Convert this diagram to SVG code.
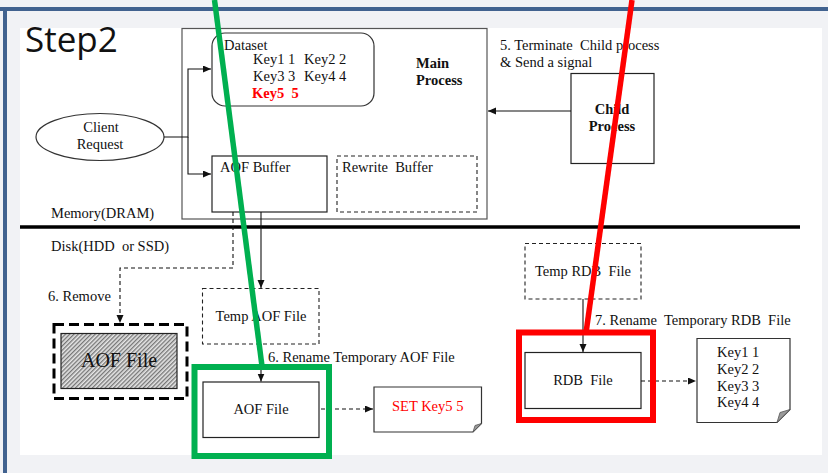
<svg xmlns="http://www.w3.org/2000/svg" width="828" height="473" viewBox="0 0 828 473">
<defs>
<style>
.t{font-family:"Liberation Serif","Times New Roman",serif;font-size:14.5px;fill:#111;white-space:pre}
.b{font-weight:bold}
.red{fill:#ff0000}
.c{text-anchor:middle}
.box{fill:#fff;stroke:#222;stroke-width:1.2}
.dbox{fill:#fff;stroke:#222;stroke-width:1.1;stroke-dasharray:4 3}
.con{fill:none;stroke:#111;stroke-width:1.1}
.dash{stroke-dasharray:4 3}
</style>
<marker id="ah" markerUnits="userSpaceOnUse" markerWidth="9" markerHeight="8" refX="8" refY="3.5" orient="auto">
<path d="M0,0 L8,3.5 L0,7 z" fill="#111"/>
</marker>
<pattern id="hatch" width="3" height="3" patternUnits="userSpaceOnUse" patternTransform="rotate(45)">
<rect width="3" height="3" fill="#e6e6e6"/>
<line x1="0.7" y1="0" x2="0.7" y2="3" stroke="#6a6a6a" stroke-width="1.2"/>
</pattern>
</defs>

<!-- slide background -->
<rect x="0" y="0" width="828" height="473" fill="#f1f2f5"/>
<rect x="20" y="28" width="802" height="427" fill="#fff"/>
<rect x="0" y="7" width="828" height="4" fill="#41628f"/>
<rect x="3" y="7" width="4" height="466" fill="#41628f"/>

<text x="25" y="52" font-family="'Open Sans','Liberation Sans',sans-serif" font-size="35" fill="#111">Step2</text>

<!-- memory / disk divider -->
<line x1="20" y1="227" x2="800" y2="227" stroke="#000" stroke-width="3.5"/>
<text class="t" x="51" y="218">Memory(DRAM)</text>
<text class="t" x="51" y="251" xml:space="preserve">Disk(HDD  or SSD)</text>

<g id="main-process">
<rect x="182" y="28.5" width="305" height="190.5" fill="#fff" stroke="#555" stroke-width="1.2"/>
<text class="t b" x="416" y="68">Main</text>
<text class="t b" x="416" y="85">Process</text>
</g>

<g id="dataset">
<rect x="212" y="33" width="162" height="73" rx="13" fill="#fff" stroke="#333" stroke-width="1.2"/>
<text class="t" x="224" y="50">Dataset</text>
<text class="t" x="253" y="64">Key1 1</text>
<text class="t" x="304" y="64">Key2 2</text>
<text class="t" x="253" y="81">Key3 3</text>
<text class="t" x="304" y="81">Key4 4</text>
<text class="t b red" x="252" y="98" xml:space="preserve">Key5  5</text>
</g>

<g id="aof-buffer">
<rect class="box" x="212" y="156" width="115" height="56"/>
<text class="t" x="220" y="172">AOF Buffer</text>
</g>

<g id="rewrite-buffer">
<rect class="dbox" x="337" y="156" width="140" height="56"/>
<text class="t" x="342" y="172" xml:space="preserve">Rewrite  Buffer</text>
</g>

<g id="client-request">
<ellipse cx="100" cy="137" rx="64" ry="23.5" fill="#fff" stroke="#333" stroke-width="1.2"/>
<text class="t c" x="101" y="132">Client</text>
<text class="t c" x="100" y="149">Request</text>
</g>

<g id="child-process">
<rect class="box" x="571" y="73.5" width="83" height="90"/>
<text class="t b c" x="612" y="114">Child</text>
<text class="t b c" x="612" y="131">Process</text>
<text class="t" x="500" y="50" xml:space="preserve">5. Terminate  Child process</text>
<text class="t" x="500" y="67">&amp; Send a signal</text>
</g>

<g id="old-aof-file">
<rect x="54" y="324.5" width="133" height="74" fill="none" stroke="#000" stroke-width="3" stroke-dasharray="10 5"/>
<rect x="61" y="333.5" width="116" height="55" fill="url(#hatch)" stroke="#222" stroke-width="1.2"/>
<text class="t c" x="119" y="367" style="font-size:20px">AOF File</text>
<text class="t" x="48" y="301">6. Remove</text>
</g>

<g id="temp-aof-file">
<rect class="dbox" x="202.5" y="288.5" width="116.5" height="55.5"/>
<text class="t c" x="261" y="321">Temp AOF File</text>
</g>

<g id="aof-file">
<rect class="box" x="203" y="382" width="116" height="55.5"/>
<text class="t c" x="261" y="414">AOF File</text>
<text class="t" x="268" y="362">6. Rename Temporary AOF File</text>
</g>

<g id="set-note">
<path d="M374,387 H481.5 V423.5 L473,432 H374 Z" fill="#fff" stroke="#333" stroke-width="1.2"/>
<path d="M481.5,423.5 L473,432 L475,425.5 Z" fill="#999" stroke="#555" stroke-width="0.8"/>
<text class="t red" x="392" y="411">SET Key5 5</text>
</g>

<g id="temp-rdb-file">
<rect class="dbox" x="525" y="243.5" width="116" height="55.5"/>
<text class="t c" x="583" y="276" xml:space="preserve">Temp RDB  File</text>
</g>

<g id="rdb-file">
<rect class="box" x="525" y="352.5" width="116" height="56"/>
<text class="t c" x="583" y="385" xml:space="preserve">RDB  File</text>
<text class="t" x="595" y="325" xml:space="preserve">7. Rename  Temporary RDB  File</text>
</g>

<g id="rdb-note">
<path d="M697,338.5 H790 V409.5 L777,422.5 H697 Z" fill="#fff" stroke="#333" stroke-width="1.2"/>
<path d="M790,409.5 L777,422.5 L780,412.5 Z" fill="#999" stroke="#555" stroke-width="0.8"/>
<text class="t" x="717" y="357">Key1 1</text>
<text class="t" x="717" y="374">Key2 2</text>
<text class="t" x="717" y="391">Key3 3</text>
<text class="t" x="717" y="407">Key4 4</text>
</g>

<g id="connectors">
<path class="con" d="M164,137 H188 V69 H211" marker-end="url(#ah)"/>
<path class="con" d="M188,137 V174 H211" marker-end="url(#ah)"/>
<path class="con" d="M571,111 H488" marker-end="url(#ah)"/>
<path class="con dash" d="M233,212 V268 H120 V323" marker-end="url(#ah)"/>
<path class="con" d="M261,212 V288" marker-end="url(#ah)"/>
<path class="con" d="M261,344 V381.5" marker-end="url(#ah)"/>
<path class="con dash" d="M321,409 H373" marker-end="url(#ah)"/>
<path class="con" d="M583,299 V352" marker-end="url(#ah)"/>
<path class="con dash" d="M641,381 H696" marker-end="url(#ah)"/>
</g>

<g id="highlights">
<rect x="194.5" y="367" width="134.5" height="89" fill="none" stroke="#00b050" stroke-width="6"/>
<line x1="214.5" y1="0" x2="262" y2="366" stroke="#00b050" stroke-width="5.5"/>
<rect x="519" y="332.5" width="134" height="87.5" fill="none" stroke="#ff0000" stroke-width="6"/>
<line x1="632" y1="0" x2="586" y2="333" stroke="#ff0000" stroke-width="5.5"/>
</g>
</svg>
